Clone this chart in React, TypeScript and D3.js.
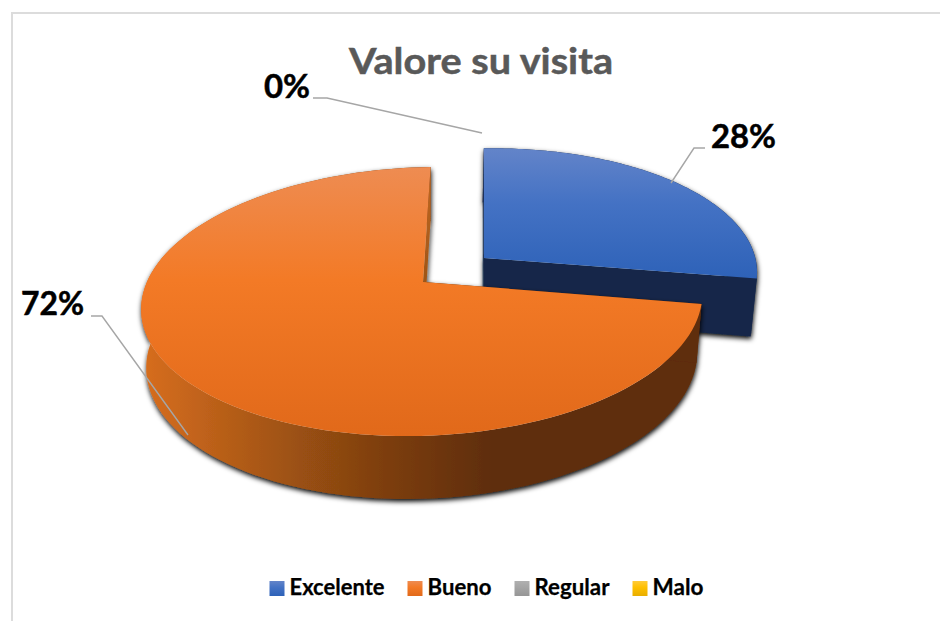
import React from "react";
import * as d3 from "d3";

const categories = ["Excelente", "Bueno", "Regular", "Malo"];
const values = [28, 72, 0, 0];
const legendWidths = [95, 64, 75, 51];
const topStops = [
  ["#6384c9", "#4472c4", "#2e62b8"],
  ["#ee8c52", "#f37a26", "#e1691a"],
  ["#b0b0b0", "#a5a5a5", "#969696"],
  ["#ffcb3a", "#ffc000", "#e8ae00"],
];
const wallColors = ["#152848", "#c4691f"];
const rimStops: [number, string][] = [
  [0, "#d66d1f"],
  [0.28, "#9a5012"],
  [0.42, "#7f3f10"],
  [0.63, "#5e2d0a"],
  [1, "#5e2d0a"],
];

const W = 940;
const H = 621;
// pie plane, hand fitted to the picture
const CX = 423;
const CY = 282;
const R = 277.5;
const RY = 131.7;
const VX = 483;
const K = 0.145;
const TILT = 3.5;
const DEPTH = 58;
const EXPLODE = 0.285;

function project(u: number, v: number, low = false): [number, number] {
  const s = 1 / (1 - K * v);
  const x = VX + (CX + R * u - VX) * s;
  const y = CY + RY * v * s - TILT * u;
  if (!low) return [x, y];
  return [x + (CX - x) * 0.018, y + DEPTH * (0.5 + 0.5 * s)];
}

const pie = d3
  .pie<number>()
  .sort(null)
  .value((d) => d);
const slices = pie(values);
const line = d3.line();

function rimPoint(a: number, off: [number, number], low = false) {
  return project(off[0] + Math.sin(a), off[1] - Math.cos(a), low);
}

function angleSteps(d: d3.PieArcDatum<number>) {
  return d3.range(0, 121).map((i) => d.startAngle + ((d.endAngle - d.startAngle) * i) / 120);
}

function topPath(d: d3.PieArcDatum<number>, off: [number, number]) {
  const pts = [project(off[0], off[1]), ...angleSteps(d).map((a) => rimPoint(a, off))];
  return line(pts) + "Z";
}

function rimPath(d: d3.PieArcDatum<number>, off: [number, number]) {
  const steps = angleSteps(d);
  const pts = [
    ...steps.map((a) => rimPoint(a, off)),
    ...steps.slice().reverse().map((a) => rimPoint(a, off, true)),
  ];
  return line(pts) + "Z";
}

function wallPath(a: number, off: [number, number]) {
  return (
    line([
      project(off[0], off[1]),
      rimPoint(a, off),
      rimPoint(a, off, true),
      project(off[0], off[1], true),
    ]) + "Z"
  );
}

function Slice({ d, i, off }: { d: d3.PieArcDatum<number>; i: number; off: [number, number] }) {
  const rimFill = i === 0 ? wallColors[0] : "url(#rim)";
  return (
    <g>
      <g filter="url(#sideShadow)">
        <path d={rimPath(d, off)} fill={rimFill} />
        <path d={wallPath(d.startAngle, off)} fill={i === 0 ? wallColors[0] : "#5e2d0a"} />
        <path d={wallPath(d.endAngle, off)} fill={i === 0 ? wallColors[0] : "url(#wall)"} />
      </g>
      <path d={topPath(d, off)} fill={`url(#top${i})`} />
    </g>
  );
}

export default function App() {
  const mid = (slices[0].startAngle + slices[0].endAngle) / 2;
  const blueOff: [number, number] = [EXPLODE * Math.sin(mid), -EXPLODE * Math.cos(mid)];
  const pct = (v: number) => `${v}%`;

  let legendX = 269.5;
  const legend = categories.map((c, i) => {
    const x = legendX;
    legendX += 20 + legendWidths[i] + 23;
    return { c, i, x };
  });

  return (
    <svg
      width={W}
      height={H}
      viewBox={`0 0 ${W} ${H}`}
      style={{ position: "absolute", left: 0, top: 0, background: "#fff", fontFamily: "Lato, Carlito, sans-serif" }}
    >
      <defs>
        {topStops.map((st, i) => (
          <linearGradient key={i} id={`top${i}`} x1="0" y1="0" x2="0" y2="1">
            <stop offset="0" stopColor={st[0]} />
            <stop offset="0.42" stopColor={st[1]} />
            <stop offset="1" stopColor={st[2]} />
          </linearGradient>
        ))}
        <linearGradient id="rim" gradientUnits="userSpaceOnUse" x1="145" y1="0" x2="700" y2="0">
          {rimStops.map(([o, c]) => (
            <stop key={o} offset={o} stopColor={c} />
          ))}
        </linearGradient>
        <linearGradient id="wall" x1="0" y1="0" x2="0" y2="1">
          <stop offset="0" stopColor={wallColors[1]} />
          <stop offset="1" stopColor="#8a4a14" />
        </linearGradient>
        <filter id="sideShadow" x="-5%" y="-5%" width="110%" height="115%">
          <feDropShadow dx="0.5" dy="2.5" stdDeviation="2.6" floodColor="#000" floodOpacity="1" />
        </filter>
      </defs>

      <path d="M12 621V13H940" fill="none" stroke="#dcdcdc" strokeWidth={2} />

      <text x={481} y={74} textAnchor="middle" fontSize={37} fontWeight={700} fill="#595959" stroke="#595959" strokeWidth={0.5} textLength={264} lengthAdjust="spacingAndGlyphs">
        Valore su visita
      </text>

      <Slice d={slices[0]} i={0} off={blueOff} />
      <Slice d={slices[1]} i={1} off={[0, 0]} />

      <g fill="none" stroke="#a6a6a6" strokeWidth={1.4}>
        <path d={line([[313, 98], [327, 98], [482, 133]]) ?? ""} />
        <path d={line([[705, 148], [694, 148], [671, 183]]) ?? ""} />
        <path d={line([[91, 316], [102, 316], [188, 435]]) ?? ""} />
      </g>

      <g fontSize={33} fontWeight={700} fill="#000" stroke="#000" strokeWidth={0.5}>
        <text x={264} y={98} textLength={46} lengthAdjust="spacingAndGlyphs">{pct(values[2])}</text>
        <text x={711} y={148} textLength={65} lengthAdjust="spacingAndGlyphs">{pct(values[0])}</text>
        <text x={21} y={315} textLength={63} lengthAdjust="spacingAndGlyphs">{pct(values[1])}</text>
      </g>

      {legend.map(({ c, i, x }) => (
        <g key={c}>
          <rect x={x} y={581} width={15} height={15} fill={`url(#top${i})`} />
          <text x={x + 20} y={595} fontSize={22} fontWeight={700} fill="#000" stroke="#000" strokeWidth={0.25} textLength={legendWidths[i]} lengthAdjust="spacingAndGlyphs">
            {c}
          </text>
        </g>
      ))}
    </svg>
  );
}
